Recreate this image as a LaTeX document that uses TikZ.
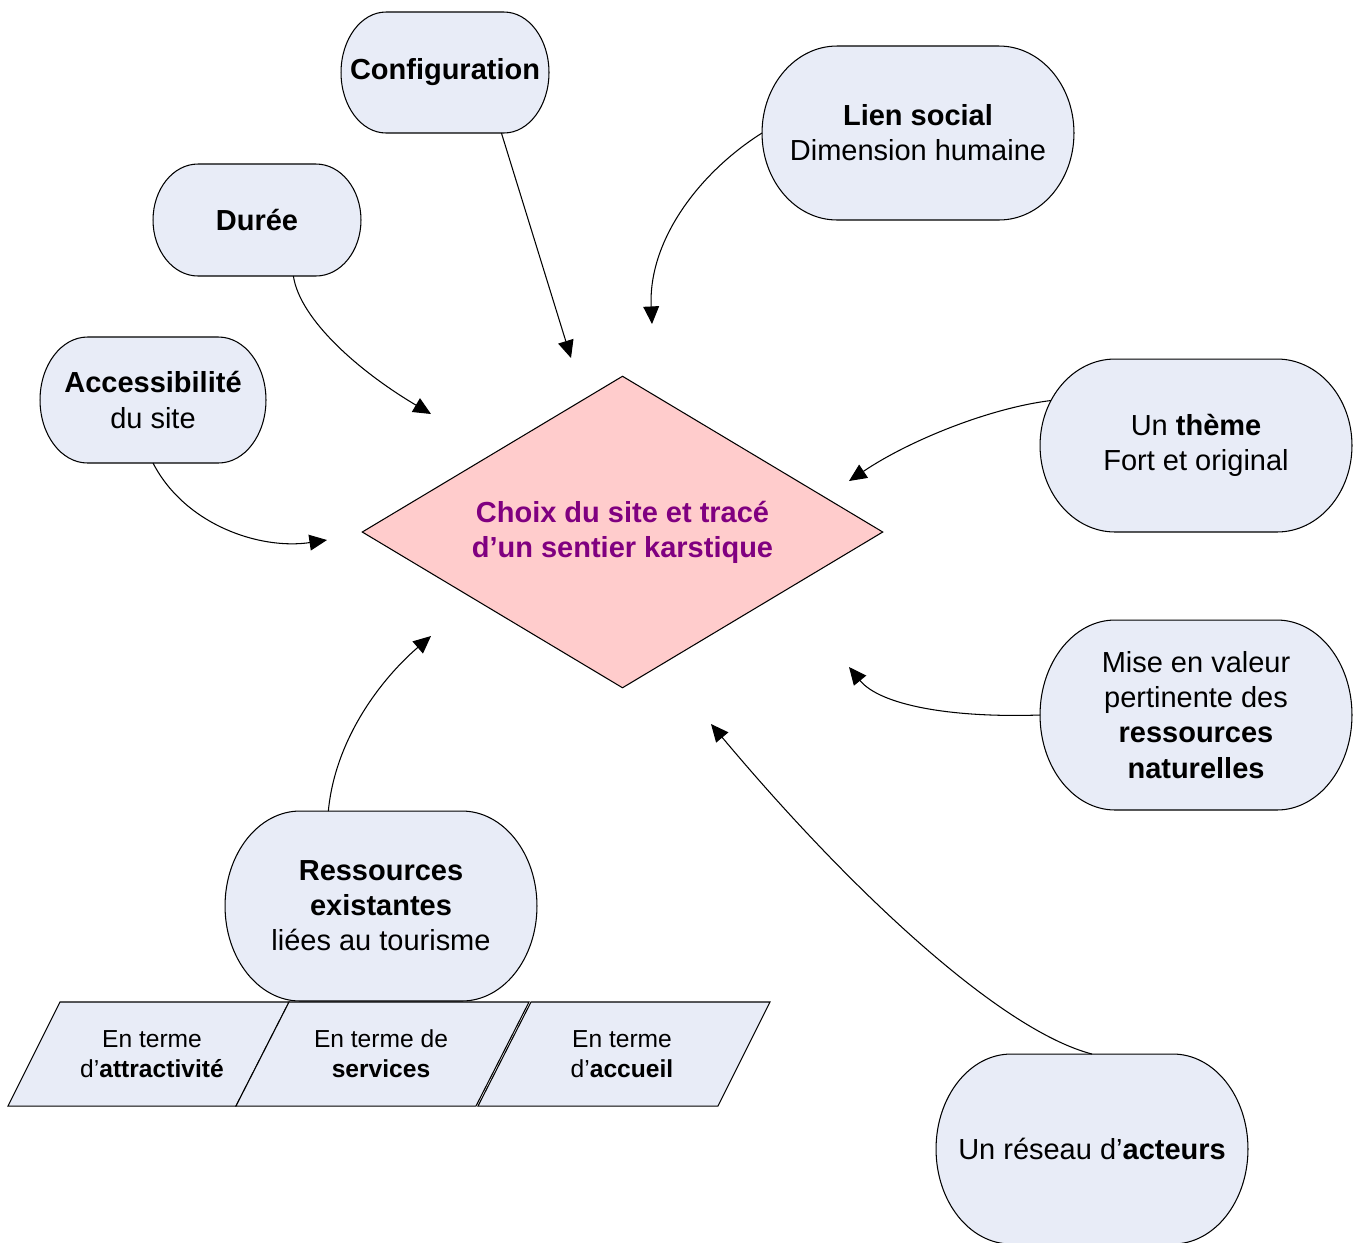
\documentclass[tikz,border=0pt]{standalone}
\usepackage{fontspec}
\setmainfont{Liberation Sans}
\usetikzlibrary{calc,positioning,shapes.geometric,arrows.meta}
\definecolor{fondbulle}{RGB}{232,236,247}
\definecolor{fondchoix}{RGB}{255,204,204}
\definecolor{titrechoix}{RGB}{128,0,128}
\pgfdeclarelayer{background}
\pgfsetlayers{background,main}
\tikzset{
>={Triangle[length=10pt,width=9pt]},
  bulle/.style={
    rectangle,
    align=center,
    inner sep=0pt, outer sep=0pt,
    font=\fontsize{16.5}{20}\selectfont},
  bord/.style={draw=black, line width=0.6pt, fill=fondbulle},
  choix/.style={
    diamond,
    aspect=1.67,
    draw=black, line width=0.6pt,
    fill=fondchoix,
    align=center,
    inner sep=0pt,
    text=titrechoix,
    font=\fontsize{16.5}{20}\selectfont\bfseries},
  terme/.style={draw=black, line width=0.6pt, fill=fondbulle},
  termetexte/.style={
    align=center,
    inner sep=0pt,
    font=\fontsize{14}{17}\selectfont},
  line/.style={draw, line width=0.6pt, ->},
}
\begin{document}
\begin{tikzpicture}[x=0.02cm, y=0.02cm]
  \useasboundingbox (0,0) rectangle (1364,-1242);

  % le losange central
  \node[choix, minimum width=10.42cm, minimum height=6.24cm] (choix) at (622.5,-532)
    {Choix du site et tracé\\d’un sentier karstique};

  % les bulles
  \node[bulle, minimum width=4.16cm, minimum height=2.42cm] (config) at (445,-72.5) {\textbf{Configuration}};
  \node[bulle, minimum width=4.16cm, minimum height=2.24cm] (duree) at (257,-220) {\textbf{Durée}};
  \node[bulle, minimum width=4.52cm, minimum height=2.52cm] (access) at (153,-400) {\textbf{Accessibilité}\\du site};
  \node[bulle, minimum width=6.24cm, minimum height=3.48cm] (lien) at (918,-133) {\textbf{Lien social}\\Dimension humaine};
  \node[bulle, minimum width=6.24cm, minimum height=3.46cm] (theme) at (1196,-445.5) {Un \textbf{thème}\\Fort et original};
  \node[bulle, minimum width=6.24cm, minimum height=3.8cm] (mise) at (1196,-715)
    {Mise en valeur\\pertinente des\\\textbf{ressources}\\\textbf{naturelles}};
  \node[bulle, minimum width=6.24cm, minimum height=3.8cm] (ress) at (381,-906)
    {\textbf{Ressources}\\\textbf{existantes}\\liées au tourisme};
  \node[bulle, minimum width=6.24cm, minimum height=3.8cm] (reseau) at (1092,-1149) {Un réseau d’\textbf{acteurs}};

  \begin{pgfonlayer}{background}
  \foreach \nom/\r in {config/0.9cm, duree/0.9cm, access/0.95cm, lien/1.5cm,
                       theme/1.5cm, mise/1.5cm, ress/1.5cm, reseau/1.5cm}
    \draw[bord] let \p1=(\nom.north east), \p2=(\nom.south west), \n1={(\y1-\y2)/2} in
      (\x2+\r,\y1) -- (\x1-\r,\y1)
      arc[start angle=90, end angle=-90, x radius=\r, y radius=\n1]
      -- (\x2+\r,\y2)
      arc[start angle=270, end angle=90, x radius=\r, y radius=\n1] -- cycle;
  \end{pgfonlayer}

  % les termes
  \draw[terme] (8,-1106) -- (60,-1002) -- (289,-1002) -- (236,-1106) -- cycle;
  \draw[terme] (236,-1106) -- (289,-1002) -- (529,-1002) -- (476,-1106) -- cycle;
  \draw[terme] (478,-1106) -- (531,-1002) -- (770,-1002) -- (718,-1106) -- cycle;
  \node[termetexte] (attract) at (152,-1054) {En terme\\d’\textbf{attractivité}};
  \node[termetexte] (services) at (381,-1054) {En terme de\\\textbf{services}};
  \node[termetexte] (accueil) at (622,-1054) {En terme\\d’\textbf{accueil}};

  % bouts des fleches
  \coordinate (e1) at (571,-358);
  \coordinate (e2) at (652,-324);
  \coordinate (e3) at (431,-414);
  \coordinate (e4) at (327,-540);
  \coordinate (e5) at (849,-481);
  \coordinate (e6) at (849,-667);
  \coordinate (e7) at (431,-636);
  \coordinate (e8) at (711,-724);

  \path[line] (config.-47) -- (e1);
  \path[line] (lien.west) .. controls (700,-172) and (648,-240) .. (e2);
  \path[line] (duree.-57) .. controls (300,-320) and (360,-372) .. (e3);
  \path[line] (access.south) .. controls (185,-525) and (260,-550) .. (e4);
  \path[line] ($(theme.west)+(11,45)$) .. controls (990,-408) and (910,-440) .. (e5);
  \path[line] (mise.west) .. controls (950,-718) and (880,-705) .. (e6);
  \path[line] (ress.119.6) .. controls (335,-740) and (380,-680) .. (e7);
  \path[line] (reseau.north) .. controls (1000,-1030) and (850,-890) .. (e8);
\end{tikzpicture}
\end{document}
